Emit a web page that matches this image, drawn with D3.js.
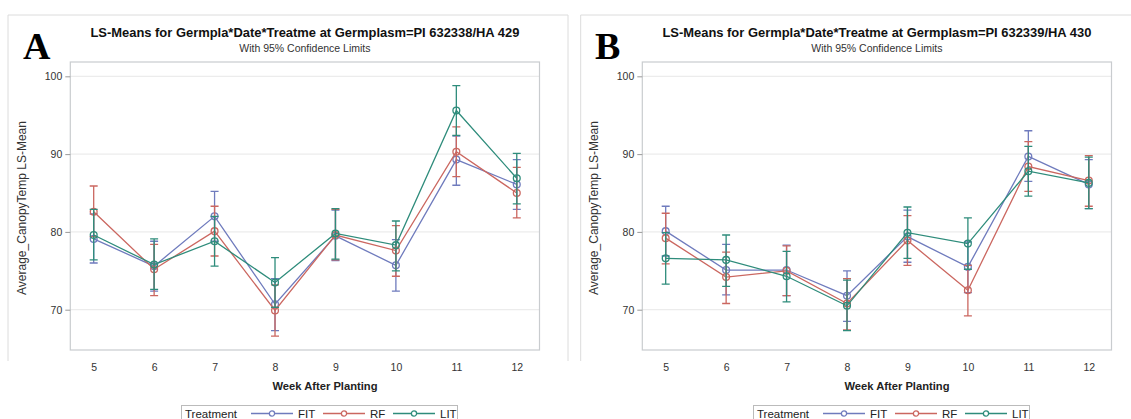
<!DOCTYPE html>
<html>
<head>
<meta charset="utf-8">
<script src="https://cdn.jsdelivr.net/npm/d3@7"></script>
<style>
  body { margin: 0; background: #fff; }
  svg { display: block; font-family: "Liberation Sans", Arial, sans-serif; }
</style>
</head>
<body>
<div id="chart"></div>
<script>
// weeks after planting
const weeks = [5, 6, 7, 8, 9, 10, 11, 12];
const yTicks = [70, 80, 90, 100];
const treatments = ["FIT", "RF", "LIT"];

// panel A: PI 632338/HA 429
const aFitMean = [79.1, 75.6, 82.0, 70.7, 79.5, 75.7, 89.3, 86.1];
const aFitLow  = [76.0, 72.4, 78.8, 67.3, 76.3, 72.4, 86.0, 82.9];
const aFitUp   = [82.3, 78.8, 85.2, 74.0, 82.8, 79.0, 92.3, 89.3];
const aRfMean  = [82.6, 75.2, 80.1, 69.9, 79.6, 77.6, 90.3, 85.0];
const aRfLow   = [79.4, 71.8, 76.9, 66.6, 76.4, 74.3, 87.1, 81.8];
const aRfUp    = [85.9, 78.4, 83.3, 73.2, 82.9, 80.8, 93.5, 88.3];
const aLitMean = [79.6, 75.8, 78.8, 73.5, 79.8, 78.3, 95.6, 86.9];
const aLitLow  = [76.4, 72.6, 75.6, 70.3, 76.5, 75.0, 92.4, 83.6];
const aLitUp   = [82.9, 79.1, 82.0, 76.7, 83.0, 81.4, 98.8, 90.1];

// panel B: PI 632339/HA 430
const bFitMean = [80.1, 75.1, 75.1, 71.8, 79.4, 75.5, 89.7, 86.1];
const bFitLow  = [76.9, 71.9, 71.8, 68.5, 76.1, 72.2, 86.5, 83.0];
const bFitUp   = [83.3, 78.4, 78.3, 75.0, 82.8, 78.7, 93.0, 89.3];
const bRfMean  = [79.2, 74.2, 75.0, 70.8, 78.9, 72.5, 88.4, 86.6];
const bRfLow   = [75.9, 70.8, 71.8, 67.4, 75.7, 69.2, 85.2, 83.3];
const bRfUp    = [82.4, 77.4, 78.2, 74.0, 82.1, 75.7, 91.6, 89.8];
const bLitMean = [76.6, 76.4, 74.3, 70.5, 79.9, 78.5, 87.8, 86.3];
const bLitLow  = [73.3, 73.0, 71.0, 67.3, 76.6, 75.2, 84.6, 83.0];
const bLitUp   = [79.9, 79.6, 77.5, 73.8, 83.2, 81.8, 91.0, 89.6];

const colors = { FIT: "#6f7bbd", RF: "#cb6760", LIT: "#2e8c7b" };

function series(name, mean, low, up) {
  return { name: name, points: weeks.map((w, i) => ({ week: w, mean: mean[i], low: low[i], up: up[i] })) };
}

const panels = [
  { letter: "A", dx: 0, title: "LS-Means for Germpla*Date*Treatme at Germplasm=PI 632338/HA 429",
    data: [series("FIT", aFitMean, aFitLow, aFitUp), series("RF", aRfMean, aRfLow, aRfUp), series("LIT", aLitMean, aLitLow, aLitUp)] },
  { letter: "B", dx: 572, title: "LS-Means for Germpla*Date*Treatme at Germplasm=PI 632339/HA 430",
    data: [series("FIT", bFitMean, bFitLow, bFitUp), series("RF", bRfMean, bRfLow, bRfUp), series("LIT", bLitMean, bLitLow, bLitUp)] }
];

const width = 1131, height = 419;
const svg = d3.select("#chart").append("svg")
  .attr("width", width)
  .attr("height", height);

// plot box (panel A coordinates)
const plot = { left: 70.3, right: 539.5, top: 62, bottom: 350 };

const x = d3.scaleLinear().domain([4.613, 12.376]).range([plot.left, plot.right]);
const y = d3.scaleLinear().domain([64.82, 101.84]).range([plot.bottom, plot.top]);

// outer frames
svg.append("path")
  .attr("d", "M8,361V15H568V361")
  .attr("fill", "none").attr("stroke", "#dcdcdc");
svg.append("path")
  .attr("d", "M580.7,361V15H1131")
  .attr("fill", "none").attr("stroke", "#dcdcdc");

panels.forEach(function(p) {
  const g = svg.append("g").attr("transform", "translate(" + p.dx + ",0)");

  g.append("text")
    .attr("x", 23).attr("y", 59)
    .attr("font-family", "'Liberation Serif', 'Times New Roman', serif")
    .attr("font-weight", "bold")
    .attr("font-size", 38)
    .attr("fill", "#000")
    .text(p.letter);

  g.append("text")
    .attr("x", (plot.left + plot.right) / 2).attr("y", 37)
    .attr("text-anchor", "middle")
    .attr("font-weight", "bold").attr("font-size", 12)
    .attr("textLength", 429).attr("lengthAdjust", "spacingAndGlyphs")
    .attr("fill", "#111")
    .text(p.title);

  g.append("text")
    .attr("x", (plot.left + plot.right) / 2).attr("y", 52)
    .attr("text-anchor", "middle")
    .attr("font-size", 10.5)
    .attr("fill", "#333")
    .text("With 95% Confidence Limits");

  // gridlines
  g.append("g").selectAll("line")
    .data(yTicks)
    .join("line")
    .attr("x1", plot.left).attr("x2", plot.right)
    .attr("y1", d => y(d)).attr("y2", d => y(d))
    .attr("stroke", "#ececec").attr("stroke-width", 1.2);

  g.append("rect")
    .attr("x", plot.left).attr("y", plot.top)
    .attr("width", plot.right - plot.left).attr("height", plot.bottom - plot.top)
    .attr("fill", "none").attr("stroke", "#c9cccf").attr("stroke-width", 1.2);

  // axes
  const yAxis = g.append("g")
    .attr("transform", "translate(" + plot.left + ",0)")
    .call(d3.axisLeft(y).tickValues(yTicks).tickSize(5).tickPadding(3));
  const xAxis = g.append("g")
    .attr("transform", "translate(0," + plot.bottom + ")")
    .call(d3.axisBottom(x).tickValues(weeks).tickSize(0).tickPadding(14));
  [yAxis, xAxis].forEach(function(a) {
    a.select(".domain").remove();
    a.selectAll(".tick line").attr("stroke", "#999");
    a.selectAll(".tick text")
      .attr("font-size", 10.5).attr("fill", "#333")
      .attr("font-family", "'Liberation Sans', Arial, sans-serif");
  });

  g.append("text")
    .attr("x", 325).attr("y", 390)
    .attr("text-anchor", "middle")
    .attr("font-weight", "bold").attr("font-size", 11.2)
    .attr("fill", "#222")
    .text("Week After Planting");

  g.append("text")
    .attr("transform", "translate(26," + ((plot.top + plot.bottom) / 2 + 2) + ") rotate(-90)")
    .attr("text-anchor", "middle")
    .attr("font-size", 12)
    .attr("fill", "#333")
    .text("Average_CanopyTemp LS-Mean");

  const line = d3.line().x(d => x(d.week)).y(d => y(d.mean));

  const sg = g.append("g").selectAll("g")
    .data(p.data)
    .join("g")
    .attr("stroke", d => colors[d.name])
    .attr("fill", "none")
    .attr("stroke-width", 1.3);

  sg.append("path").attr("d", d => line(d.points));

  sg.selectAll(".err")
    .data(d => d.points)
    .join("path")
    .attr("class", "err")
    .attr("d", d => "M" + x(d.week) + "," + y(d.low) + "V" + y(d.up) +
      "M" + (x(d.week) - 4) + "," + y(d.low) + "h8" +
      "M" + (x(d.week) - 4) + "," + y(d.up) + "h8");

  sg.selectAll("circle")
    .data(d => d.points)
    .join("circle")
    .attr("cx", d => x(d.week))
    .attr("cy", d => y(d.mean))
    .attr("r", 3.4);

  // legend
  const lg = g.append("g");
  lg.append("rect")
    .attr("x", 181.5).attr("y", 405.5)
    .attr("width", 276).attr("height", 20)
    .attr("fill", "#fff").attr("stroke", "#bbb");
  lg.append("text")
    .attr("x", 185).attr("y", 417.5)
    .attr("font-size", 11.5).attr("fill", "#222")
    .text("Treatment");
  const starts = [251, 323, 393];
  const items = lg.selectAll(".item")
    .data(treatments)
    .join("g")
    .attr("class", "item")
    .attr("transform", (d, i) => "translate(" + starts[i] + ",413.5)");
  items.append("line")
    .attr("x1", 0).attr("x2", 42)
    .attr("stroke", d => colors[d]).attr("stroke-width", 1.3);
  items.append("circle")
    .attr("cx", 21).attr("r", 2.6)
    .attr("fill", "#fff").attr("stroke", d => colors[d]).attr("stroke-width", 1.3);
  items.append("text")
    .attr("x", 47).attr("y", 4)
    .attr("font-size", 11.5).attr("fill", "#222")
    .text(d => d);
});
</script>
</body>
</html>
